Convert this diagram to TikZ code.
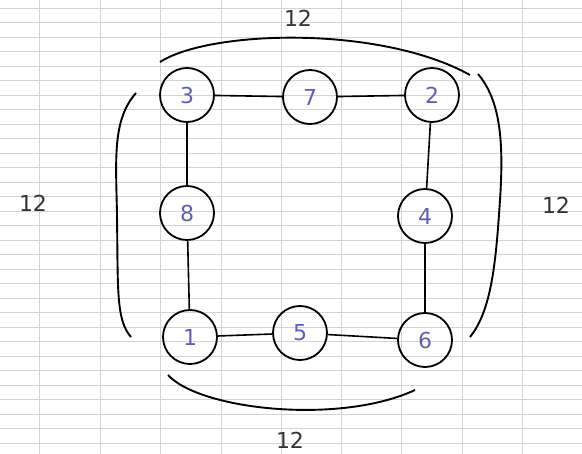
\documentclass[tikz,border=0pt]{standalone}
\usepackage{fontspec}
\setmainfont{DejaVu Sans}
\definecolor{ink}{RGB}{95,95,185}
\definecolor{gridc}{RGB}{210,210,215}
\begin{document}
\begin{tikzpicture}[x=1pt,y=-1pt,
  num/.style={circle,draw=black,line width=1.8pt,minimum size=54pt,inner sep=0pt,
    text=ink,font=\fontsize{22}{26}\selectfont},
  link/.style={draw=black,line width=1.6pt},
  brace/.style={draw=black,line width=1.9pt},
  sumlabel/.style={font=\fontsize{22}{26}\selectfont,text=black!80}]
\useasboundingbox (0,0) rectangle (582,454);
% grid paper
\foreach \gx in {39,100,160,221,281,341,401,462,522}
  \draw[gridc,line width=0.8pt] (\gx,0) -- (\gx,454);
\foreach \gy in {8,22.5,37,51.5,66,80.5,95,109.5,124,138.5,153,167.5,182,196.5,211,225.5,240,254.5,269,283.5,298,312.5,327,341.5,356,370.5,385,399.5,414,428.5,443}
  \draw[gridc,line width=0.6pt] (0,\gy) -- (582,\gy);
% nodes
\node[num] (n3) at (187,95) {3};
\node[num] (n7) at (310,97) {7};
\node[num] (n2) at (432,95) {2};
\node[num] (n8) at (187,213) {8};
\node[num] (n4) at (425,216) {4};
\node[num] (n1) at (190,337) {1};
\node[num] (n5) at (300,333) {5};
\node[num] (n6) at (425,340) {6};
% links
\draw[link] (n3) -- (n7);
\draw[link] (n7) -- (n2);
\draw[link] (n2) -- (n4);
\draw[link] (n4) -- (n6);
\draw[link] (n6) -- (n5);
\draw[link] (n5) -- (n1);
\draw[link] (n1) -- (n8);
\draw[link] (n8) -- (n3);
% braces
\coordinate (tA) at (160,62);
\coordinate (tB) at (470,75);
\draw[brace] (tA) .. controls (210,30) and (380,25) .. (tB);
\coordinate (lA) at (136,93);
\coordinate (lB) at (131,337);
\draw[brace] (lA) .. controls (112,120) and (116,160) .. (117,215) .. controls (118,290) and (116,320) .. (lB);
\coordinate (rA) at (478,74);
\coordinate (rB) at (470,337);
\draw[brace] (rA) .. controls (500,100) and (504,140) .. (500,200) .. controls (496,260) and (492,310) .. (rB);
\coordinate (bA) at (168,375);
\coordinate (bB) at (415,390);
\draw[brace] (bA) .. controls (200,410) and (340,425) .. (bB);
% labels
\node[sumlabel] (s1) at (298,18) {12};
\node[sumlabel] (s2) at (33,203) {12};
\node[sumlabel] (s3) at (556,205) {12};
\node[sumlabel] (s4) at (290,440) {12};
\end{tikzpicture}
\end{document}
